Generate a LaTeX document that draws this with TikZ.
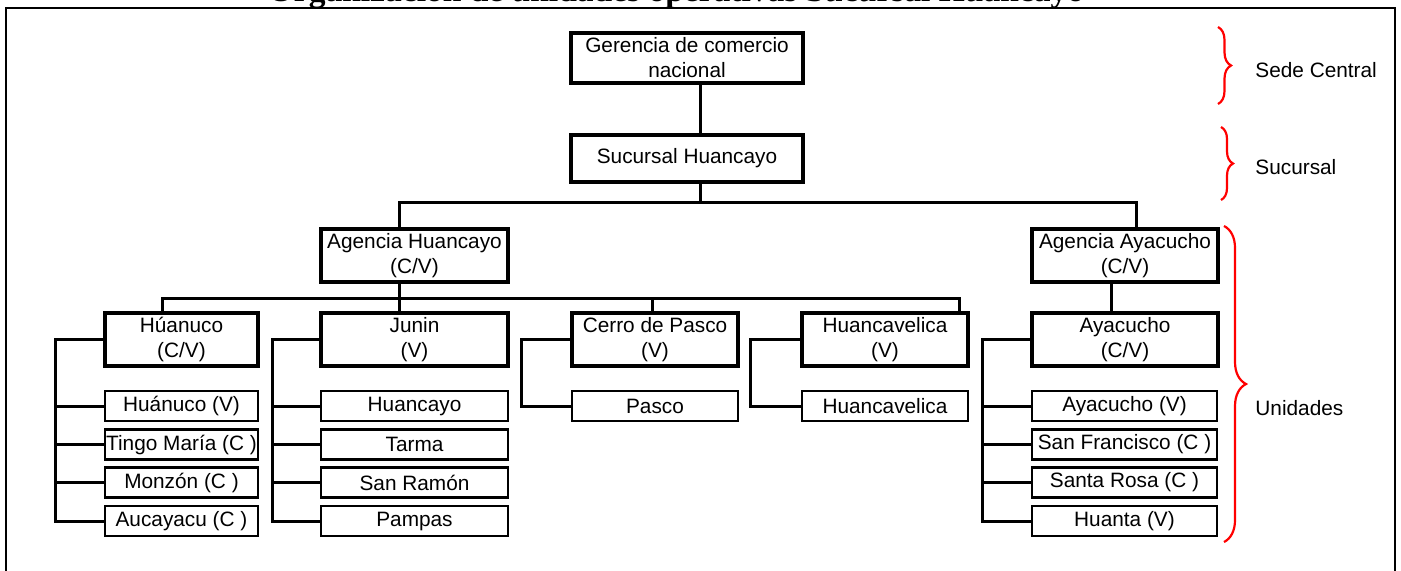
\documentclass[tikz,border=0pt]{standalone}
\usepackage{fontspec}
\setmainfont{Liberation Sans}
\newfontfamily\titlefont{Liberation Serif}
\usetikzlibrary{decorations.pathreplacing}
\begin{document}
\begin{tikzpicture}[x=0.5pt,y=-0.5pt,
  every node/.style={font=\fontsize{10.4}{12.5}\selectfont},
  unitbox/.style={draw, line width=1.6pt, inner sep=0pt, align=center, minimum height=26.5pt},
  leafbox/.style={draw, line width=1.4pt, inner sep=0pt, align=center, minimum height=15pt},
  link/.style={line width=1.5pt},
  bracered/.style={draw=red, line width=1.1pt, decorate},
  bracelabel/.style={anchor=west, inner sep=0pt}]
\useasboundingbox (0,0) rectangle (1401,570);

% title and outer frame
\node[anchor=base, inner sep=0pt, font=\titlefont\bfseries\fontsize{16.75}{20}\selectfont] (title) at (676,1)
  {Organización de unidades operativas Sucursal Huancayo};
\draw[line width=1.2pt] (6,600) -- (6,8) -- (1395,8) -- (1395,600);

% upper levels
\node[unitbox, minimum width=116pt, minimum height=25pt] (ger) at (687,58) {Gerencia de comercio\\nacional};
\node[unitbox, minimum width=116pt, minimum height=23.5pt] (suc) at (687,158.5) {Sucursal Huancayo};
\node[unitbox, minimum width=93.5pt] (agh) at (414.5,255.5) {Agencia Huancayo\\(C/V)};
\node[unitbox, minimum width=93pt] (aga) at (1125,255.5) {Agencia Ayacucho\\(C/V)};

% departments
\node[unitbox, minimum width=76.5pt] (hun) at (181.5,339.5) {Húanuco\\(C/V)};
\node[unitbox, minimum width=93.5pt] (jun) at (414.5,339.5) {Junin\\(V)};
\node[unitbox, minimum width=83pt] (cdp) at (655,339.5) {Cerro de Pasco\\(V)};
\node[unitbox, minimum width=83pt] (hcv) at (885,339.5) {Huancavelica\\(V)};
\node[unitbox, minimum width=93pt] (aya) at (1125,339.5) {Ayacucho\\(C/V)};

% local units
\node[leafbox, minimum width=76.5pt] (hun1) at (181.5,406) {Huánuco (V)};
\node[leafbox, minimum width=76.5pt] (hun2) at (181.5,444.5) {Tingo María (C )};
\node[leafbox, minimum width=76.5pt] (hun3) at (181.5,482.5) {Monzón (C )};
\node[leafbox, minimum width=76.5pt] (hun4) at (181.5,521) {Aucayacu (C )};

\node[leafbox, minimum width=93.5pt] (jun1) at (414.5,406) {Huancayo};
\node[leafbox, minimum width=93.5pt] (jun2) at (414.5,444.5) {Tarma};
\node[leafbox, minimum width=93.5pt] (jun3) at (414.5,482.5) {San Ramón};
\node[leafbox, minimum width=93.5pt] (jun4) at (414.5,521) {Pampas};

\node[leafbox, minimum width=83pt] (cdp1) at (655,406) {Pasco};
\node[leafbox, minimum width=83pt] (hcv1) at (885,406) {Huancavelica};

\node[leafbox, minimum width=92.5pt] (aya1) at (1124.5,406) {Ayacucho (V)};
\node[leafbox, minimum width=92.5pt] (aya2) at (1124.5,444.5) {San Francisco (C )};
\node[leafbox, minimum width=92.5pt] (aya3) at (1124.5,482.5) {Santa Rosa (C )};
\node[leafbox, minimum width=92.5pt] (aya4) at (1124.5,521) {Huanta (V)};

% trunk and bus positions
\coordinate (tr) at (700,0);
\coordinate (ax) at (399,0);
\coordinate (ay) at (1136,0);
\coordinate (busA) at (0,202);
\coordinate (busB) at (0,298);
\coordinate (dh) at (162,0);
\coordinate (dc) at (652,0);
\coordinate (dv) at (959,0);
\coordinate (dy) at (1111,0);

% hierarchy connectors
\draw[link] (tr|-ger.south) -- (tr|-suc.north);
\draw[link] (tr|-suc.south) -- (tr|-busA);
\draw[link] (ax|-agh.north) -- (ax|-busA) -- (ay|-busA) -- (ay|-aga.north);
\draw[link] (ax|-agh.south) -- (ax|-jun.north);
\draw[link] (dh|-hun.north) -- (dh|-busB) -- (dv|-busB) -- (dv|-hcv.north);
\draw[link] (dc|-busB) -- (dc|-cdp.north);
\draw[link] (dy|-aga.south) -- (dy|-aya.north);

% side brackets towards the local units
\coordinate (kh) at (55,0);
\coordinate (kj) at (272,0);
\coordinate (kc) at (521,0);
\coordinate (kv) at (750,0);
\coordinate (ka) at (982,0);
\draw[link] (hun.west) -- (kh|-hun.west) -- (kh|-hun4.west) -- (hun4.west);
\foreach \n in {hun1,hun2,hun3} \draw[link] (kh|-\n.west) -- (\n.west);
\draw[link] (jun.west) -- (kj|-jun.west) -- (kj|-jun4.west) -- (jun4.west);
\foreach \n in {jun1,jun2,jun3} \draw[link] (kj|-\n.west) -- (\n.west);
\draw[link] (cdp.west) -- (kc|-cdp.west) -- (kc|-cdp1.west) -- (cdp1.west);
\draw[link] (hcv.west) -- (kv|-hcv.west) -- (kv|-hcv1.west) -- (hcv1.west);
\draw[link] (aya.west) -- (ka|-aya.west) -- (ka|-aya4.west) -- (aya4.west);
\foreach \n in {aya1,aya2,aya3} \draw[link] (ka|-\n.west) -- (\n.west);

% level braces
\coordinate (sb1) at (1218,27);
\coordinate (sb2) at (1218,104);
\coordinate (ub1) at (1221,127);
\coordinate (ub2) at (1221,200);
\coordinate (nb1) at (1224,226);
\coordinate (nb2) at (1224,542);
\path[bracered, decoration={brace, amplitude=6.5pt}] (sb1) -- (sb2);
\path[bracered, decoration={brace, amplitude=6pt}] (ub1) -- (ub2);
\path[bracered, decoration={brace, amplitude=11pt}] (nb1) -- (nb2);
\node[bracelabel] (lsede) at (1255,70) {Sede Central};
\node[bracelabel] (lsuc) at (1255,167.5) {Sucursal};
\node[bracelabel] (luni) at (1255,408) {Unidades};
\end{tikzpicture}
\end{document}
